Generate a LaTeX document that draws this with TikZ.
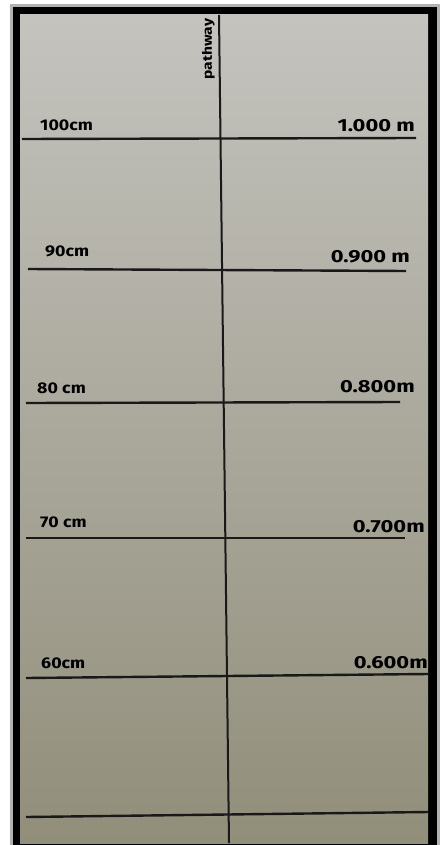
\documentclass[tikz,border=0pt]{standalone}
\usepackage{fontspec}
\setmainfont{Fira Sans}
\begin{document}
\begin{tikzpicture}[x=1pt,y=-1pt,
  hline/.style={line width=2.4pt, black!90},
  vline/.style={line width=2pt, black!90},
  lab/.style={inner sep=0pt, xscale=1.15, font=\fontsize{15.5}{15.5}\selectfont\bfseries},
  labr/.style={inner sep=0pt, xscale=1.25, font=\fontsize{17.5}{17.5}\selectfont\bfseries}]
\useasboundingbox (0,0) rectangle (442,845);
\fill[white] (0,0) rectangle (442,845);
\fill[black!30] (10,4) rectangle (440,845);
\fill[black] (13,7) rectangle (437,845);
\shade[top color={rgb,255:red,196;green,195;blue,190}, bottom color={rgb,255:red,145;green,142;blue,122}] (20,15) rectangle (428,843);
% vertical pathway line
\coordinate (vt) at (219,15);
\coordinate (vb) at (229,843);
\draw[vline] (vt) -- (vb);
\node[inner sep=0pt, rotate=90, anchor=south, xscale=1.2, font=\fontsize{13}{13}\selectfont\bfseries] (pw) at (215,49) {pathway};
% horizontal lines
\coordinate (l1a) at (22,139); \coordinate (l1b) at (416,138);
\coordinate (l2a) at (28,269); \coordinate (l2b) at (406,271);
\coordinate (l3a) at (26,403); \coordinate (l3b) at (400,402);
\coordinate (l4a) at (26,538); \coordinate (l4b) at (405,538);
\coordinate (l5a) at (26,678); \coordinate (l5b) at (428,674);
\coordinate (l6a) at (26,817); \coordinate (l6b) at (428,812);
\foreach \i in {1,...,6} \draw[hline] (l\i a) -- (l\i b);
% labels
\node[lab, anchor=base west] (c100) at (40,131) {100cm};
\node[labr, anchor=base east] (m100) at (415,132) {1.000 m};
\node[lab, anchor=base west] (c90) at (45,256) {90cm};
\node[labr, anchor=base east] (m90) at (410,262) {0.900 m};
\node[lab, anchor=base west] (c80) at (37,393) {80 cm};
\node[labr, anchor=base east] (m80) at (415,392) {0.800m};
\node[lab, anchor=base west] (c70) at (40,527) {70 cm};
\node[labr, anchor=base east] (m70) at (425,532) {0.700m};
\node[lab, anchor=base west] (c60) at (41,668) {60cm};
\node[labr, anchor=base east] (m60) at (428,668) {0.600m};
\end{tikzpicture}
\end{document}
